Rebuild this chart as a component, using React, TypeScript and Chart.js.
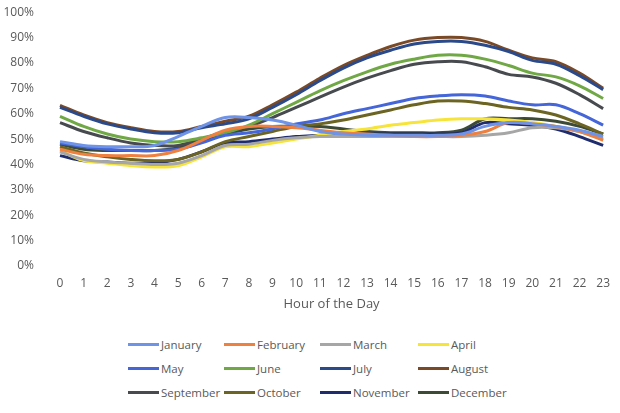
import React, { useEffect, useRef } from "react";
import { Chart, registerables } from "chart.js";

Chart.register(...registerables);

const hours = ["0","1","2","3","4","5","6","7","8","9","10","11","12","13","14","15","16","17","18","19","20","21","22","23"];

const january = [49, 47.5, 47, 47, 47.5, 51, 55, 58.5, 58.5, 57.5, 55.5, 53, 52, 51.5, 51.5, 51.5, 51.5, 52, 55, 56.5, 56, 55, 53.5, 51];
const february = [46, 44, 43.5, 43.5, 43.5, 45.5, 49.5, 53.5, 55, 55, 54.5, 53.5, 52.5, 52, 51.5, 51, 51, 51.5, 53, 56.5, 56, 55, 53, 49.5];
const march = [45, 42, 41, 40.5, 40, 40.5, 43.5, 47.5, 48, 49.5, 50.5, 51, 51, 51, 51, 51, 51, 51, 51.5, 52.5, 54.5, 54.5, 53, 50];
const april = [45.5, 41.5, 40.5, 39.5, 39, 39.5, 43, 47, 47, 48.5, 50, 51.5, 53, 54, 55.5, 56.5, 57.5, 58, 58, 57.5, 56.5, 55, 53, 50];
const may = [48.5, 47, 46, 45.5, 45.5, 46, 48.5, 51.5, 52.5, 54, 56, 57.5, 60, 62, 64, 66, 67, 67.5, 67, 65, 63.5, 63.5, 60, 55.5];
const june = [59, 55, 52, 50, 49, 49, 50.5, 52.5, 55.5, 60, 64.5, 69, 73, 76.5, 79.5, 81.5, 83, 83, 81.5, 79, 76, 74.5, 71, 66];
const july = [62.5, 59, 56, 54, 52.5, 52.5, 54.5, 56, 58, 62.5, 67.5, 73, 78, 82, 85, 87.5, 88.5, 88.5, 87, 84.5, 81, 79.5, 75, 69.5];
const august = [63.3, 59.5, 56.5, 54.5, 53, 53, 55, 57, 59, 63.5, 68.5, 74, 79, 83, 86.5, 89, 90, 90, 88.5, 85, 82, 80.5, 76, 70];
const september = [56.5, 53, 50.5, 48.5, 47.5, 47.5, 50, 53, 55, 58.5, 62.5, 66.5, 70.5, 74, 77, 79.5, 80.5, 80.5, 78.5, 75.5, 74.5, 72, 67.5, 62];
const october = [47, 44.5, 43, 42, 41.5, 42, 45, 49, 51, 53, 55, 56, 57.5, 59.5, 61.5, 63.5, 65, 65, 64, 62.5, 61.5, 59.5, 56, 52];
const november = [43.5, 41.5, 41, 40.5, 40.5, 42, 45, 48.5, 49, 50, 51, 51.5, 52, 52, 52, 52, 52, 52.5, 56.5, 56, 55.5, 54, 51, 47.5];
const december = [48, 46, 45.5, 45.5, 45.5, 46.5, 49, 52, 54, 55, 55, 55, 54, 53, 52.5, 52.5, 52.5, 53.5, 58, 58, 58, 57, 55, 52];

const seriesNames = ["January","February","March","April","May","June","July","August","September","October","November","December"];
const seriesData = [january, february, march, april, may, june, july, august, september, october, november, december];
const seriesColors = ["#6f93e6","#ee8040","#a6a6a6","#f7e43a","#4466d8","#6fa845","#2a4a8a","#7a4a26","#474a4e","#6b6422","#1f2d6e","#3c4a36"];

const yTicks = [0, 10, 20, 30, 40, 50, 60, 70, 80, 90, 100];

export default function App() {
  const ref = useRef<HTMLCanvasElement | null>(null);

  useEffect(() => {
    if (!ref.current) return;
    const chart = new Chart(ref.current, {
      type: "line",
      data: {
        labels: hours,
        datasets: seriesNames.map((name, i) => ({
          label: name,
          data: seriesData[i],
          borderColor: seriesColors[i],
          backgroundColor: seriesColors[i],
          borderWidth: 3,
          pointRadius: 0,
          tension: 0.35,
          fill: false,
        })),
      },
      options: {
        responsive: false,
        animation: false,
        layout: { padding: { left: 0, right: 8, top: 0, bottom: 0 } },
        plugins: { legend: { display: false }, tooltip: { enabled: false } },
        scales: {
          x: {
            offset: false,
            grid: { display: false, drawTicks: false },
            border: { display: false },
            ticks: { color: "#595959", font: { family: "Open Sans", size: 12 }, padding: 10, maxRotation: 0, autoSkip: false },
            title: { display: true, text: "Hour of the Day", color: "#595959", font: { family: "Open Sans", size: 13 }, padding: { top: 4, bottom: 0 } },
            afterFit: (s: any) => { s.height = 46; },
          },
          y: {
            min: 0,
            max: 100,
            afterBuildTicks: (s: any) => { s.ticks = yTicks.map((v) => ({ value: v })); },
            grid: { display: false, drawTicks: false },
            border: { display: false },
            ticks: { color: "#595959", font: { family: "Open Sans", size: 12 }, padding: 26, callback: (v: any) => v + "%" },
            afterFit: (s: any) => { s.width = 60; },
          },
        },
      },
    });
    return () => chart.destroy();
  }, []);

  return (
    <div style={{ position: "fixed", left: 0, top: 0, width: 620, height: 413, background: "#fff", overflow: "hidden" }}>
      <canvas ref={ref} width={620} height={333} style={{ display: "block", position: "absolute", left: 0, top: -21 }} />
      <div
        style={{
          position: "absolute",
          left: 128,
          top: 334,
          display: "grid",
          gridTemplateColumns: "96px 96px 98px 110px",
          rowGap: 4,
          fontFamily: "Open Sans",
          fontSize: 11.5,
          color: "#595959",
        }}
      >
        {seriesNames.map((name, i) => (
          <div key={name} style={{ display: "flex", alignItems: "center", height: 20, whiteSpace: "nowrap" }}>
            <div style={{ width: 31, height: 3, background: seriesColors[i], marginRight: 2 }} />
            <span>{name}</span>
          </div>
        ))}
      </div>
    </div>
  );
}
